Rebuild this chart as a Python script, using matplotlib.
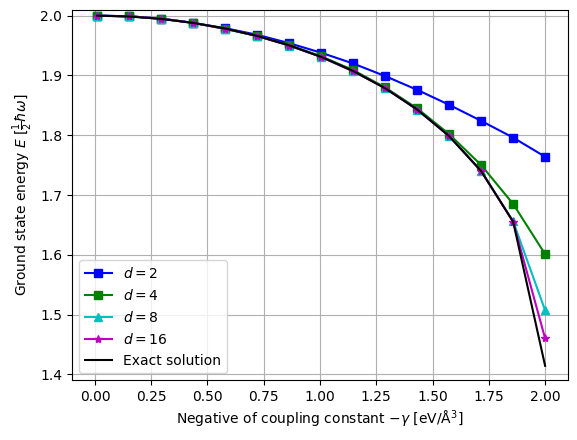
import matplotlib
matplotlib.use("Agg")
import matplotlib.pyplot as plt

x = [0.010, 0.152, 0.294, 0.436, 0.579, 0.721, 0.863, 1.005,
     1.147, 1.289, 1.431, 1.573, 1.716, 1.858, 2.000]
d2 = [2.000, 1.999, 1.995, 1.988, 1.979, 1.968, 1.954, 1.938,
      1.920, 1.899, 1.876, 1.851, 1.824, 1.796, 1.764]
d4 = [2.000, 1.999, 1.995, 1.988, 1.978, 1.966, 1.951, 1.932,
      1.909, 1.880, 1.845, 1.802, 1.750, 1.685, 1.601]
d8 = [2.000, 1.999, 1.995, 1.988, 1.978, 1.966, 1.950, 1.931,
      1.907, 1.879, 1.843, 1.799, 1.740, 1.656, 1.507]
d16 = [2.000, 1.999, 1.995, 1.988, 1.978, 1.966, 1.950, 1.931,
       1.907, 1.879, 1.843, 1.799, 1.740, 1.655, 1.460]
exact = [2.000, 1.9986, 1.9946, 1.9879, 1.9785, 1.9661, 1.9504, 1.9311,
         1.9075, 1.8786, 1.8432, 1.7987, 1.7399, 1.6553, 1.4142]

fig = plt.figure(figsize=(5.77, 4.4), dpi=100)
ax = fig.add_axes([72/577, 1 - 380/440, (568.3 - 72)/577, (380 - 10.3)/440])
ax.plot(x, d2, 'bs-', label='$d=2$')
ax.plot(x, d4, 'gs-', label='$d=4$')
ax.plot(x, d8, 'c^-', label='$d=8$')
ax.plot(x, d16, 'm*-', label='$d=16$')
ax.plot(x, exact, 'k-', label='Exact solution')
ax.set_xlim(-0.102, 2.103)
ax.set_ylim(1.3905, 2.009)
ax.set_xlabel('Negative of coupling constant $-\\gamma$ [eV/Å$^3$]')
ax.set_ylabel('Ground state energy $E$ [$\\frac{1}{2}\\hbar\\omega$]')
ax.grid(True)
ax.legend(loc='lower left')
fig.savefig('out.png', dpi=100)
